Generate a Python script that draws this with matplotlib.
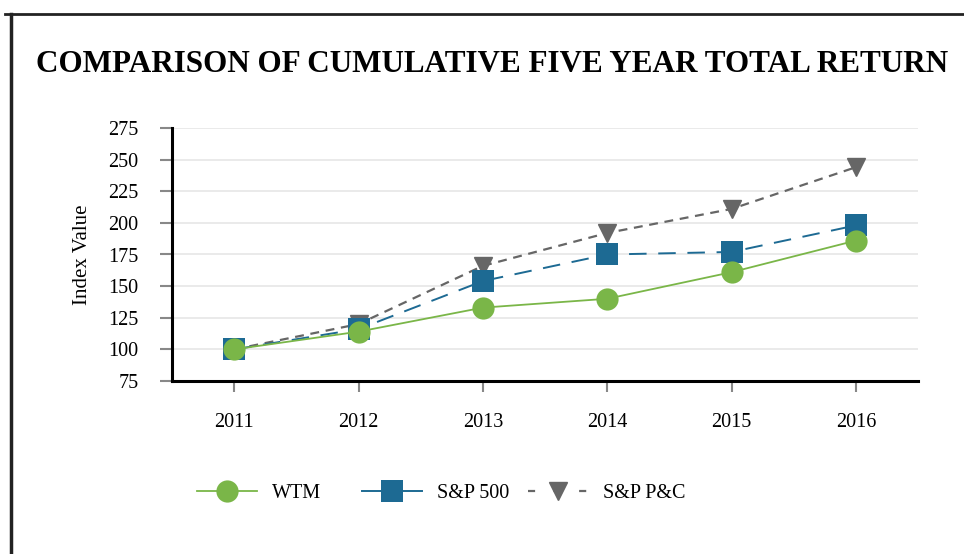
"""Comparison of cumulative five year total return (WTM vs S&P indices)"""
import matplotlib
matplotlib.use('Agg')
import matplotlib.pyplot as plt
from matplotlib.lines import Line2D

plt.rcParams.update({'font.family': 'serif',
                     'font.serif': ['Liberation Serif', 'DejaVu Serif']})

years = [2011, 2012, 2013, 2014, 2015, 2016]
wtm = [100, 114, 133, 140, 161, 186]
sp500 = [100, 116, 154, 175, 177, 198]
sp_pc = [100, 120, 166, 192, 211, 244]
yticks = [75, 100, 125, 150, 175, 200, 225, 250, 275]
names = ['WTM', 'S&P 500', 'S&P P&C']

GREEN = '#7ab648'
BLUE = '#1d6a93'
GREY = '#666666'

fig = plt.figure(figsize=(9.64, 5.54), dpi=100)
ax = fig.add_axes([172/964, 1 - 381/554, (918 - 172)/964, (381 - 128)/554])

ax.plot(years, sp_pc, color=GREY, linestyle=(0, (4, 3)), linewidth=1.6,
        marker='v', markersize=13, zorder=3)
ax.plot(years, sp500, color=BLUE, linestyle=(0, (9, 6)), linewidth=1.4,
        marker='s', markersize=16, markeredgewidth=0, zorder=4)
ax.plot(years, wtm, color=GREEN, linestyle='-', linewidth=1.3,
        marker='o', markersize=16, markeredgewidth=0, zorder=5)

ax.set_xlim(2010.5, 2016.5)
ax.set_ylim(75, 275)
ax.set_xticks(years)
ax.set_yticks(yticks)
ax.tick_params(axis='both', labelsize=14.5, color='#888888', width=1.5)
ax.tick_params(axis='y', length=9, pad=15)
ax.tick_params(axis='x', length=8, pad=15)
ax.grid(axis='y', color='#e6e6e6', linewidth=1.2)
ax.set_axisbelow(True)
for s in ['top', 'right']:
    ax.spines[s].set_visible(False)
for s in ['left', 'bottom']:
    ax.spines[s].set_linewidth(2.2)
    ax.spines[s].set_color('black')
ax.set_ylabel('Index Value', fontsize=15, labelpad=12)

fig.text(492/964, 1 - 64/554, 'COMPARISON OF CUMULATIVE FIVE YEAR TOTAL RETURN',
         ha='center', va='center', fontsize=22.4, fontweight='bold')

# legend: three separate entries placed like the reference
handles = [
    Line2D([], [], color=GREEN, linewidth=1.3, marker='o', markersize=16, markeredgewidth=0),
    Line2D([], [], color=BLUE, linewidth=1.4, marker='s', markersize=16, markeredgewidth=0),
    Line2D([], [], color=GREY, linewidth=1.6, linestyle=(0, (3.2, 8.3)), marker='v', markersize=13),
]
leg_x = [197, 362, 528]
for h, name, lx in zip(handles, names, leg_x):
    fig.legend([h], [name], loc='center left', bbox_to_anchor=(lx/964, 1 - 493/554),
               frameon=False, fontsize=14.5, handlelength=3.0, handletextpad=0.72,
               borderpad=0, borderaxespad=0)

# page border lines (top and left)
fig.add_artist(Line2D([5/964, 1], [1 - 14/554, 1 - 14/554], color='#222222', linewidth=2))
fig.add_artist(Line2D([11/964, 11/964], [0, 1 - 14/554], color='#222222', linewidth=2.5))

fig.savefig('out.png', dpi=100, facecolor='white')
